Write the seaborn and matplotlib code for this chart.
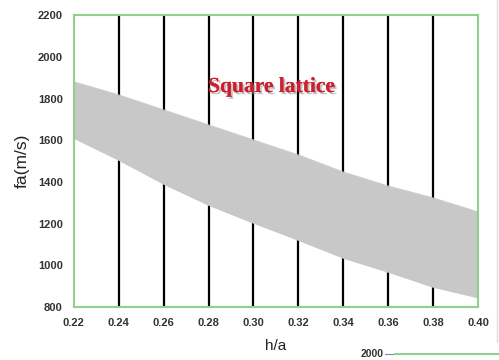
import numpy as np
import pandas as pd
import matplotlib
matplotlib.use("Agg")
import matplotlib.pyplot as plt
import matplotlib.patheffects as pe
from matplotlib.lines import Line2D
import seaborn as sns

sns.set_theme(style="white")
plt.rcParams['font.family'] = ['Liberation Sans', 'DejaVu Sans']

# band edges
h_a = [0.22, 0.24, 0.26, 0.28, 0.30, 0.32, 0.34, 0.36, 0.38, 0.40]
upper = [1880, 1817, 1745, 1673, 1601, 1529, 1447, 1380, 1323, 1256]
lower = [1610, 1505, 1390, 1289, 1203, 1121, 1035, 968, 896, 845]
grid_x = [0.24, 0.26, 0.28, 0.30, 0.32, 0.34, 0.36, 0.38]

df = pd.DataFrame({"h_a": h_a, "upper": upper, "lower": lower})

fig = plt.figure(figsize=(4.99, 3.60), dpi=100)
ax = fig.add_axes([0.148, 0.147, 0.810, 0.811])

# black vertical lines behind the band
ax.vlines(grid_x, 800, 2200, color="black", lw=1.6, zorder=1)

ax.fill_between(df["h_a"], df["lower"], df["upper"], color="#c8c8c8", lw=0, zorder=2)
sns.lineplot(data=df, x="h_a", y="upper", color="#c8c8c8", lw=0.8, ax=ax, zorder=2)
sns.lineplot(data=df, x="h_a", y="lower", color="#c8c8c8", lw=0.8, ax=ax, zorder=2)

ax.text(0.308, 1855, "Square lattice", color="#cc2030", fontsize=15.5,
        fontweight="bold", family="Liberation Serif", ha="center", va="center", zorder=5,
        path_effects=[pe.withSimplePatchShadow(offset=(1.5, -1.5), shadow_rgbFace="#999999", alpha=0.6),
                      pe.Normal()])

ax.set_xlim(0.22, 0.40)
ax.set_ylim(800, 2200)
ax.set_xticks(h_a)
ax.set_xticklabels([f"{v:.2f}" for v in h_a])
ax.set_yticks(range(800, 2201, 200))

for s in ax.spines.values():
    s.set_color("#8fd08f")
    s.set_linewidth(1.5)

ax.tick_params(axis="both", colors="#888888", labelcolor="#333333", labelsize=8,
               length=5, width=0.8, direction="out")
ax.tick_params(axis="x", length=3, pad=5)
ax.tick_params(axis="y", pad=3)
for lab in ax.get_xticklabels() + ax.get_yticklabels():
    lab.set_fontweight("bold")

ax.set_xlabel("h/a", fontsize=11, color="#222222", labelpad=8)
ax.set_ylabel("fa(m/s)", fontsize=12.5, color="#222222", labelpad=6)

# fragment of the next chart at the bottom right
fig.text(0.768, 0.016, "2000", fontsize=7.5, fontweight="bold", color="#333333",
         ha="right", va="center")
fig.add_artist(Line2D([0.772, 0.792], [0.016, 0.016], color="#888888", lw=0.8))
fig.add_artist(Line2D([0.792, 1.0], [0.018, 0.018], color="#8fd08f", lw=1.5))
fig.add_artist(Line2D([0.996, 0.996], [0.05, 1.0], color="#dddddd", lw=1.0))

fig.savefig("out.png", dpi=100)
